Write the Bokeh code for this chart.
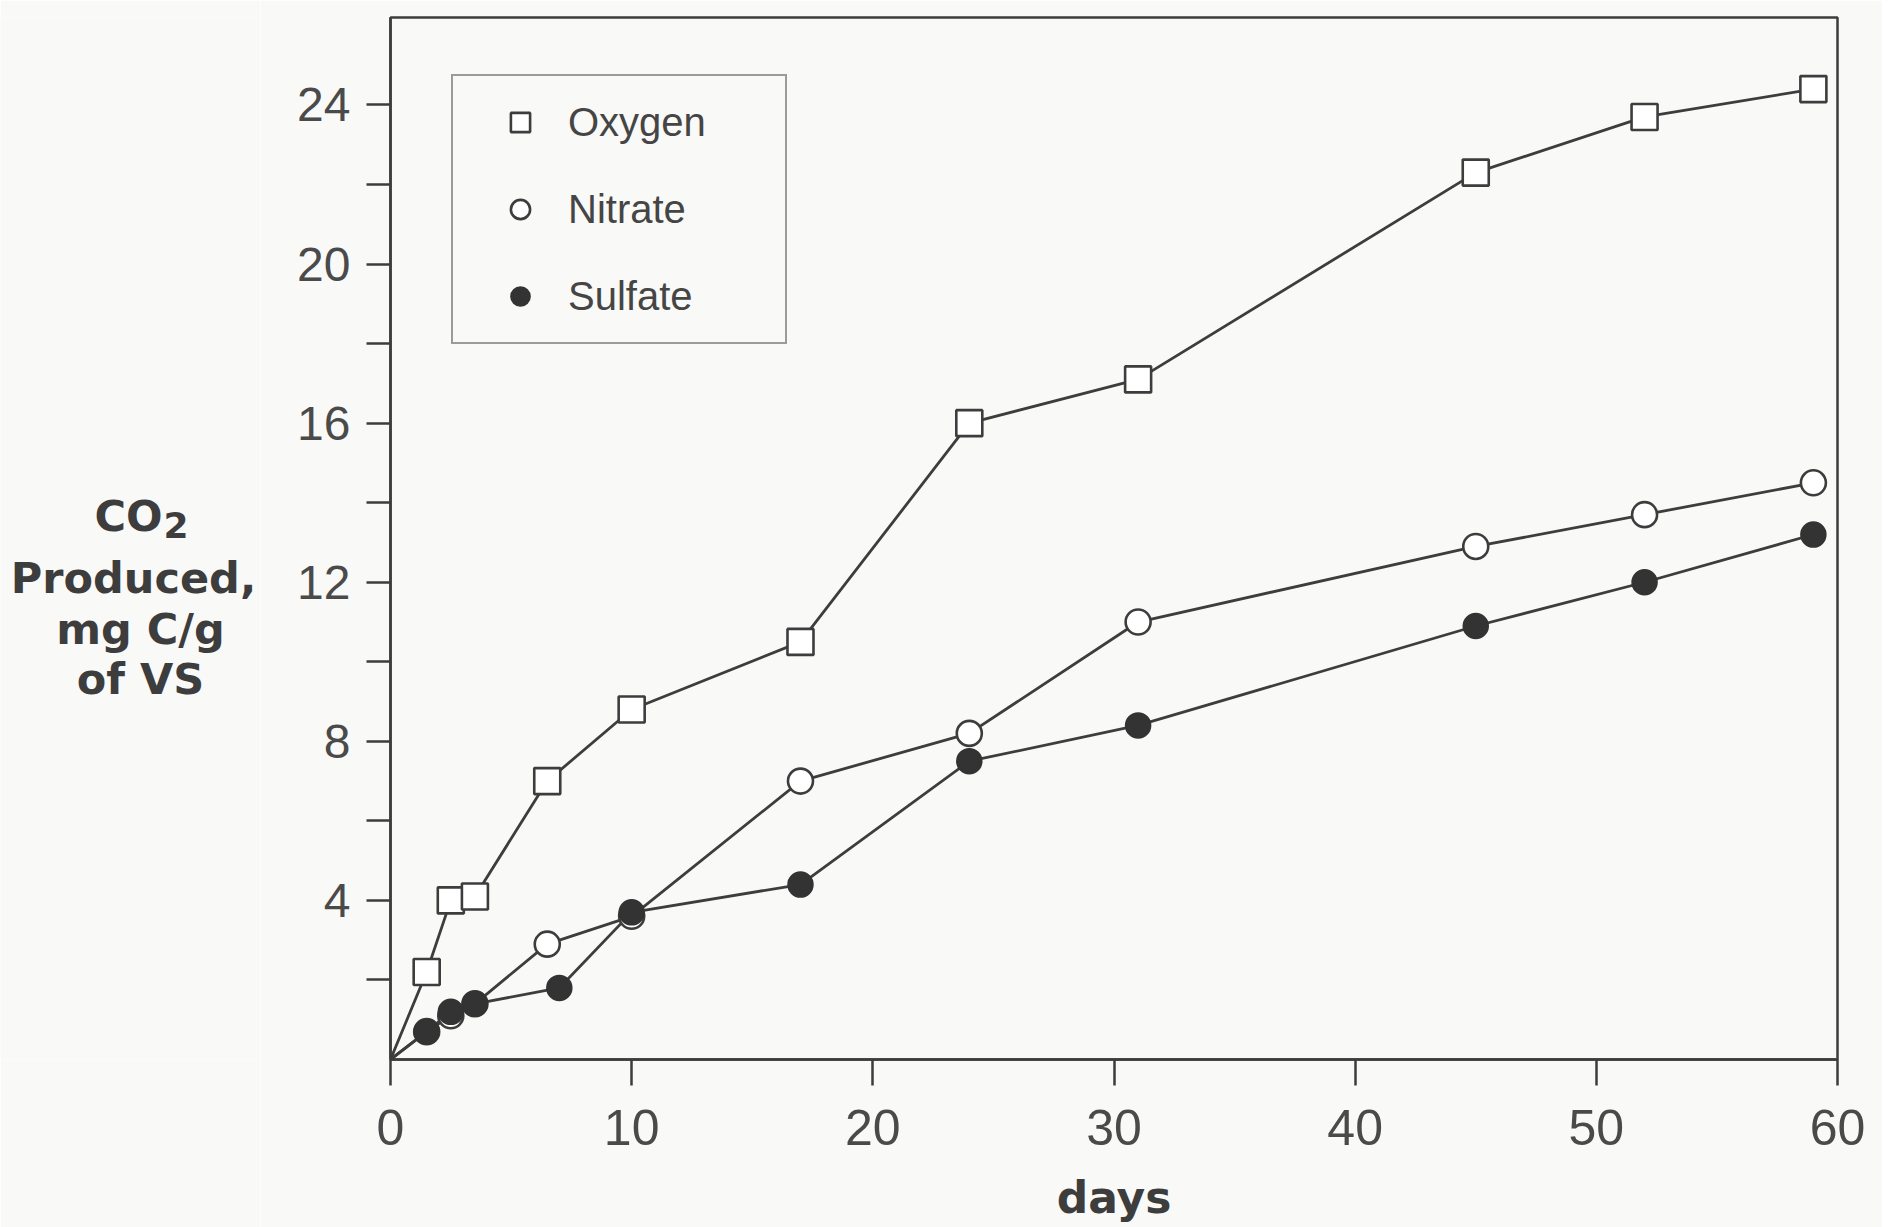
from bokeh.plotting import figure
from bokeh.models import Range1d, FixedTicker, Legend, LegendItem
from bokeh.layouts import row
from bokeh.core.properties import value
from bokeh.embed import file_html
from bokeh.resources import INLINE

# ---- data ----
days_oxygen = [0, 1.5, 2.5, 3.5, 6.5, 10, 17, 24, 31, 45, 52, 59]
oxygen = [0, 2.2, 4.0, 4.1, 7.0, 8.8, 10.5, 16.0, 17.1, 22.3, 23.7, 24.4]

days_nitrate = [0, 1.5, 2.5, 3.5, 6.5, 10, 17, 24, 31, 45, 52, 59]
nitrate = [0, 0.7, 1.1, 1.4, 2.9, 3.6, 7.0, 8.2, 11.0, 12.9, 13.7, 14.5]

days_sulfate = [0, 1.5, 2.5, 3.5, 7, 10, 17, 24, 31, 45, 52, 59]
sulfate = [0, 0.7, 1.2, 1.4, 1.8, 3.7, 4.4, 7.5, 8.4, 10.9, 12.0, 13.2]

x_ticks = [0, 10, 20, 30, 40, 50, 60]
y_ticks = [4, 8, 12, 16, 20, 24]
y_minor = [2, 6, 10, 14, 18, 22]

series_names = ["Oxygen", "Nitrate", "Sulfate"]
y_label_lines = ["Produced,", "mg C/g", "of VS"]

INK = "#3d3d3d"
BG = "#f9f9f7"
TICK_FONT = "Liberation Sans"
BOLD_FONT = "DejaVu Sans"

H = 1227
LEFT_W = 260
TOP, BOTTOM = 17, 168
FRAME_TOP, FRAME_BOTTOM = TOP, H - BOTTOM

# ---- left panel holding the horizontal y-axis title (page-pixel coordinates) ----
lp = figure(width=LEFT_W, height=H, output_backend="svg", toolbar_location=None,
            x_range=Range1d(0, LEFT_W), y_range=Range1d(FRAME_BOTTOM, FRAME_TOP),
            min_border_left=0, min_border_right=0, min_border_top=TOP,
            min_border_bottom=BOTTOM)
lp.axis.visible = False
lp.grid.visible = False
lp.outline_line_color = None
lp.background_fill_color = BG
lp.border_fill_color = BG

lp.text(x=[162], y=[515], text=["CO"], text_align="right", text_baseline="alphabetic",
        text_font=value(BOLD_FONT), text_font_style="bold", text_font_size="43px",
        text_color=INK)
lp.text(x=[163], y=[524], text=["2"], text_align="left", text_baseline="alphabetic",
        text_font=value(BOLD_FONT), text_font_style="bold", text_font_size="36px",
        text_color=INK)
lp.text(x=[133, 140, 140], y=[577, 628, 678], text=y_label_lines, text_align="center",
        text_baseline="alphabetic", text_font=value(BOLD_FONT), text_font_style="bold",
        text_font_size="43px", text_color=INK)

# ---- main chart ----
p = figure(width=1882 - LEFT_W, height=H, output_backend="svg", toolbar_location=None,
           x_range=Range1d(0, 60), y_range=Range1d(0, 26.2),
           min_border_left=390 - LEFT_W, min_border_right=45, min_border_top=TOP,
           min_border_bottom=BOTTOM)
p.background_fill_color = BG
p.border_fill_color = BG
p.grid.visible = False
p.outline_line_color = INK
p.outline_line_width = 2.5

p.xaxis.ticker = FixedTicker(ticks=x_ticks)
p.yaxis.ticker = FixedTicker(ticks=y_ticks, minor_ticks=y_minor)
for ax in (p.xaxis, p.yaxis):
    ax.axis_line_color = INK
    ax.axis_line_width = 2.5
    ax.major_tick_line_color = INK
    ax.major_tick_line_width = 2.5
    ax.major_tick_in = 0
    ax.major_label_text_font = TICK_FONT
    ax.major_label_text_color = "#4a4a4a"
p.xaxis.major_label_text_font_size = "50px"
p.yaxis.major_label_text_font_size = "48px"
p.xaxis.minor_tick_line_color = None
p.xaxis.major_tick_out = 26
p.xaxis.major_label_standoff = 24
p.yaxis.major_tick_out = 24
p.yaxis.minor_tick_out = 24
p.yaxis.minor_tick_in = 0
p.yaxis.minor_tick_line_color = INK
p.yaxis.minor_tick_line_width = 2.5
p.yaxis.major_label_standoff = 16

p.xaxis.axis_label = "days"
p.xaxis.axis_label_text_font = BOLD_FONT
p.xaxis.axis_label_text_font_style = "bold"
p.xaxis.axis_label_text_font_size = "44px"
p.xaxis.axis_label_text_color = INK
p.xaxis.axis_label_standoff = 24

for xs, ys in ((days_oxygen, oxygen), (days_nitrate, nitrate), (days_sulfate, sulfate)):
    p.line(xs, ys, line_color=INK, line_width=2.8)

r_ox = p.scatter(days_oxygen[1:], oxygen[1:], marker="square", size=26,
                 fill_color="white", line_color=INK, line_width=2.6)
r_ni = p.scatter(days_nitrate[1:], nitrate[1:], marker="circle", size=25,
                 fill_color="white", line_color=INK, line_width=2.6)
r_su = p.scatter(days_sulfate[1:], sulfate[1:], marker="circle", size=25,
                 fill_color="#333333", line_color="#333333", line_width=1.5)

legend = Legend(items=[LegendItem(label=series_names[0], renderers=[r_ox]),
                       LegendItem(label=series_names[1], renderers=[r_ni]),
                       LegendItem(label=series_names[2], renderers=[r_su])],
                location=(61, 715), margin=0, padding=22, spacing=39,
                glyph_width=90, glyph_height=48, label_height=48, label_width=195,
                label_standoff=3,
                label_text_font=TICK_FONT, label_text_font_size="40px",
                label_text_color="#454545",
                border_line_color=INK, border_line_width=2.5,
                background_fill_color=BG, background_fill_alpha=1)
p.add_layout(legend, "center")

layout = row(lp, p, spacing=0)
open("out.html", "w").write(file_html(layout, INLINE))
